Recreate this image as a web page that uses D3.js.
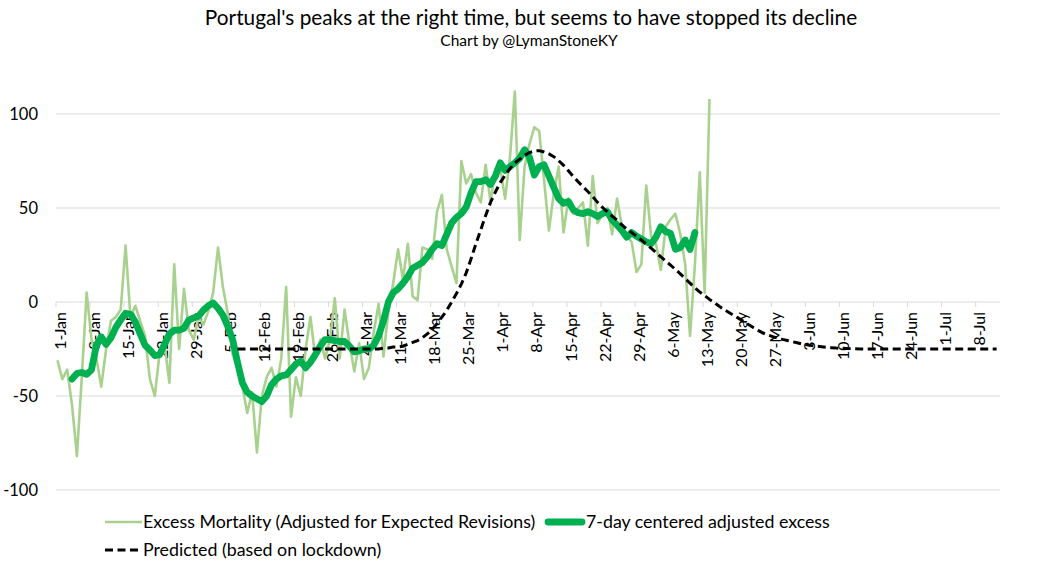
<!DOCTYPE html>
<html>
<head>
<meta charset="utf-8">
<script src="https://cdn.jsdelivr.net/npm/d3@7"></script>
<style>
  html, body { margin: 0; padding: 0; background: #fff; }
  svg { display: block; font-family: Lato, "Open Sans", sans-serif; }
</style>
</head>
<body>
<svg id="chart" width="1056" height="566"></svg>
<script>
// ---------------- DATA ----------------
const titleText = "Portugal's peaks at the right time, but seems to have stopped its decline";
const subtitleText = "Chart by @LymanStoneKY";

// Day 0 = 1-Jan-2020
const tickLabels = ["1-Jan","8-Jan","15-Jan","22-Jan","29-Jan","5-Feb","12-Feb","19-Feb","26-Feb",
  "4-Mar","11-Mar","18-Mar","25-Mar","1-Apr","8-Apr","15-Apr","22-Apr","29-Apr","6-May","13-May",
  "20-May","27-May","3-Jun","10-Jun","17-Jun","24-Jun","1-Jul","8-Jul"];
const yTicks = [-100, -50, 0, 50, 100];

// Excess Mortality (Adjusted for Expected Revisions), daily from 1-Jan (day 0)
const excessStart = 0;
const excess = [
  -31,-41,-36,-55,-82,-40,5,-20,-30,-45,
  -25,-10,-8,-4,30,-8,-2,-10,-18,-41,
  -50,-27,-22,-43,20,-25,7,-15,-20,-8,
  -12,-5,5,29,8,-6,-28,-35,-45,-59,
  -48,-80,-50,-40,-35,-45,-30,8,-61,-40,
  -50,-25,-8,-30,-20,-30,-20,2,-30,-4,
  -22,-37,-22,-41,-35,-16,-1,-29,-5,10,
  28,12,31,3,1,29,28,23,48,57,
  28,19,10,75,63,68,58,53,73,53,
  71,71,55,77,112,33,72,84,93,91,
  65,38,58,72,37,55,47,50,53,30,
  67,42,47,50,36,55,40,35,32,16,
  20,62,35,31,17,40,44,47,36,20,
  -18,20,69,5,108
];

// 7-day centered adjusted excess, daily from 4-Jan (day 3)
const smoothStart = 3;
const smoothed = [
  -41,-38,-37.5,-38.5,-36,-23,-18.5,
  -22.5,-19,-13.5,-9.5,-6,-6.5,-10.5,-17,-23,-25.5,
  -28.5,-28,-22.5,-17,-15,-15,-14,-9.6,-8.5,-7.5,
  -4.3,-2,-0.5,-3.3,-7,-13,-20,-32,-43,-48,
  -50,-51.5,-53,-50,-44,-41,-39.3,-38.8,-36,-33,
  -31.5,-35,-32,-28,-23.5,-20,-20,-20.5,-21,-21,
  -23.5,-26.5,-26,-25,-25,-23,-18,-10,0,5,
  7,10,13.5,18,19.5,21,24,28,31,30,
  36,42,45,47,50.5,58,64,64,65,62.5,
  67,74,70,72,74,76.5,81,77,67.5,72,
  73,67,61,55,52.5,53.5,49,47.5,47,48,
  47,45.5,47,48,43.6,41,38,34.5,37,35,
  33.5,32,31,34.5,40,37.5,36.5,28,29,33,
  28,37
];

// Predicted (based on lockdown), daily from 7-Feb (day 37)
const predStart = 37;
const predicted = [
  -25,-25,-25,
  -25,-25,-25,-25,-25,-25,-25,-25,-25,-25,
  -25,-25,-25,-25,-25,-25,-25,-25,-25,-25,
  -25,-25,-25,-25,-25,-25,-25,-24.5,-24.5,-24,
  -24,-23.5,-22.5,-21.5,-20.5,-19,-17,-14.5,-11.5,-8,
  -4.5,0,4.5,9.5,15.5,23,31,38.5,46,53,
  58.5,63.5,67.5,71,74,76,78,79.5,80.3,80.5,
  79.8,78.8,77.3,75.2,72.7,69.8,66.7,64,61.3,58.8,
  56,53,50.3,48,45.7,43.5,41,38.8,37,35,
  33,30.8,28.6,26.4,24,21.8,19.6,17.3,15,12.5,
  10,7.5,5.3,3.4,1.4,-0.4,-2.3,-4,-5.6,-7.2,
  -8.7,-10.3,-12,-13.6,-15.1,-16.5,-17.5,-18.4,-19.2,-19.9,
  -20.5,-21.1,-21.7,-22.3,-22.8,-23.2,-23.5,-23.8,-24.1,-24.3,
  -24.5,-24.6,-24.7,-24.8,-24.9,-25,-25,-25,-25,-25,
  -25,-25,-25,-25,-25,-25,-25,-25,-25,-25,
  -25,-25,-25,-25,-25,-25,-25,-25,-25,-25,
  -25,-25,-25,-25
];

const seriesNames = [
  "Excess Mortality (Adjusted for Expected Revisions)",
  "7-day centered adjusted excess",
  "Predicted (based on lockdown)"
];

// ---------------- CHART ----------------
const svg = d3.select("#chart");
const W = 1056, H = 566;
svg.append("rect").attr("width", W).attr("height", H).attr("fill", "#fff");

const dayOf = (label) => {
  const d = d3.timeParse("%d-%b-%Y")(label + "-2020");
  return d3.timeDay.count(new Date(2020, 0, 1), d);
};
const lastDay = 194;
const x = d3.scaleLinear().domain([0, lastDay]).range([56, 1000]);
const pointOffset = 0.3;
const px = (d) => x(d + pointOffset);
const y = d3.scaleLinear().domain([-100, 100]).range([490, 114]);

// Title
svg.append("text").attr("x", 531).attr("y", 25).attr("text-anchor", "middle")
  .attr("font-size", 20.8).attr("fill", "#000").text(titleText);
svg.append("text").attr("x", 529).attr("y", 46).attr("text-anchor", "middle")
  .attr("font-size", 15.5).attr("fill", "#000").text(subtitleText);

// Gridlines
svg.append("g").selectAll("line").data(yTicks).join("line")
  .attr("x1", x(0)).attr("x2", x(lastDay))
  .attr("y1", d => y(d)).attr("y2", d => y(d))
  .attr("stroke", "#d9d9d9").attr("stroke-width", 1);

// Y labels
svg.append("g").selectAll("text").data(yTicks).join("text")
  .attr("x", 38).attr("y", d => y(d)).attr("dy", "0.35em")
  .attr("text-anchor", "end").attr("font-size", 16.5).attr("fill", "#000")
  .text(d => d);

// X tick marks & labels (axis at y=0)
const tickDays = tickLabels.map(dayOf);
svg.append("g").selectAll("line").data(tickDays).join("line")
  .attr("x1", d => x(d)).attr("x2", d => x(d))
  .attr("y1", y(0)).attr("y2", y(0) + 5)
  .attr("stroke", "#d9d9d9").attr("stroke-width", 1);
svg.append("g").selectAll("text").data(tickLabels).join("text")
  .attr("transform", d => `translate(${x(dayOf(d)) + 4},${y(0) + 10}) rotate(-90)`)
  .attr("text-anchor", "end").attr("dy", "0.35em")
  .attr("font-size", 16).attr("fill", "#000")
  .text(d => d);

// Lines
const line = d3.line().x(d => px(d[0])).y(d => y(d[1]));
const toPts = (arr, start) => arr.map((v, i) => [start + i, v]);

svg.append("path").datum(toPts(excess, excessStart))
  .attr("d", line).attr("fill", "none")
  .attr("stroke", "#a9d18e").attr("stroke-width", 2.6).attr("stroke-linejoin", "round");
svg.append("path").datum(toPts(smoothed, smoothStart))
  .attr("d", line).attr("fill", "none")
  .attr("stroke", "#00b050").attr("stroke-width", 6.8).attr("stroke-linejoin", "round").attr("stroke-linecap", "round");
svg.append("path").datum(toPts(predicted, predStart))
  .attr("d", line).attr("fill", "none")
  .attr("stroke", "#000").attr("stroke-width", 3).attr("stroke-dasharray", "8,4.5");

// Legend
const lg = svg.append("g").attr("font-size", 17.8).attr("fill", "#000");
lg.append("line").attr("x1", 105).attr("x2", 142).attr("y1", 522).attr("y2", 522)
  .attr("stroke", "#a9d18e").attr("stroke-width", 2.6);
lg.append("text").attr("x", 143).attr("y", 522).attr("dy", "0.35em").text(seriesNames[0]);
lg.append("line").attr("x1", 548).attr("x2", 582).attr("y1", 522).attr("y2", 522)
  .attr("stroke", "#00b050").attr("stroke-width", 6.8).attr("stroke-linecap", "round");
lg.append("text").attr("x", 586).attr("y", 522).attr("dy", "0.35em").text(seriesNames[1]);
lg.append("line").attr("x1", 105).attr("x2", 139).attr("y1", 550).attr("y2", 550)
  .attr("stroke", "#000").attr("stroke-width", 3).attr("stroke-dasharray", "8,4.5");
lg.append("text").attr("x", 143).attr("y", 550).attr("dy", "0.35em").text(seriesNames[2]);
</script>
</body>
</html>
